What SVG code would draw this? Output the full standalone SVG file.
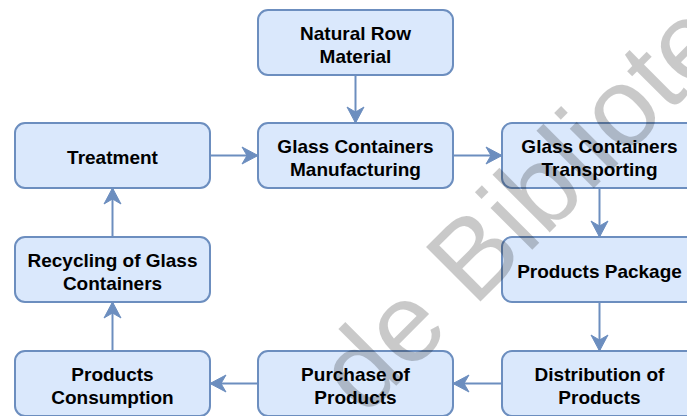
<svg xmlns="http://www.w3.org/2000/svg" width="687" height="416" viewBox="0 0 687 416">
  <style>
    .box { fill: #dae8fc; stroke: #6c8ebf; stroke-width: 2; }
    .lbl { font-family: "Liberation Sans", Arial, sans-serif; font-weight: bold; font-size: 19px; fill: #000; text-anchor: middle; }
    .edge { stroke: #6c8ebf; stroke-width: 2; fill: none; marker-end: url(#arr); }
    .wm { font-family: "Liberation Sans", Arial, sans-serif; font-size: 112px; fill: #000; fill-opacity: 0.21; }
  </style>
  <defs>
    <marker id="arr" markerUnits="userSpaceOnUse" markerWidth="20" markerHeight="20" viewBox="-17 -10 18 20" refX="0" refY="0" orient="auto">
      <path d="M0,0 L-16,-8.5 L-11,0 L-16,8.5 Z" fill="#6c8ebf" stroke="#6c8ebf" stroke-width="1"/>
    </marker>
  </defs>
  <rect width="687" height="416" fill="#ffffff"/>

  <g id="natural-row-material">
    <rect class="box" x="258" y="10" width="195" height="65" rx="10"/>
    <text class="lbl" x="355.5" y="40">Natural Row</text>
    <text class="lbl" x="355.5" y="63">Material</text>
  </g>
  <g id="treatment">
    <rect class="box" x="15" y="123" width="195" height="65" rx="10"/>
    <text class="lbl" x="112.5" y="164">Treatment</text>
  </g>
  <g id="glass-containers-manufacturing">
    <rect class="box" x="258" y="123" width="195" height="65" rx="10"/>
    <text class="lbl" x="355.5" y="153">Glass Containers</text>
    <text class="lbl" x="355.5" y="176">Manufacturing</text>
  </g>
  <g id="glass-containers-transporting">
    <rect class="box" x="502" y="123" width="195" height="65" rx="10"/>
    <text class="lbl" x="599.5" y="153">Glass Containers</text>
    <text class="lbl" x="599.5" y="176">Transporting</text>
  </g>
  <g id="recycling">
    <rect class="box" x="15" y="237" width="195" height="65" rx="10"/>
    <text class="lbl" x="112.5" y="267">Recycling of Glass</text>
    <text class="lbl" x="112.5" y="290">Containers</text>
  </g>
  <g id="products-package">
    <rect class="box" x="502" y="237" width="195" height="65" rx="10"/>
    <text class="lbl" x="599.5" y="278">Products Package</text>
  </g>
  <g id="products-consumption">
    <rect class="box" x="15" y="351" width="195" height="65" rx="10"/>
    <text class="lbl" x="112.5" y="381">Products</text>
    <text class="lbl" x="112.5" y="404">Consumption</text>
  </g>
  <g id="purchase-of-products">
    <rect class="box" x="258" y="351" width="195" height="65" rx="10"/>
    <text class="lbl" x="355.5" y="381">Purchase of</text>
    <text class="lbl" x="355.5" y="404">Products</text>
  </g>
  <g id="distribution-of-products">
    <rect class="box" x="502" y="351" width="195" height="65" rx="10"/>
    <text class="lbl" x="599.5" y="381">Distribution of</text>
    <text class="lbl" x="599.5" y="404">Products</text>
  </g>

  <g id="connectors">
    <line class="edge" x1="355.5" y1="75" x2="355.5" y2="123"/>
    <line class="edge" x1="210" y1="155.5" x2="258" y2="155.5"/>
    <line class="edge" x1="453" y1="155.5" x2="502" y2="155.5"/>
    <line class="edge" x1="599.5" y1="188" x2="599.5" y2="237"/>
    <line class="edge" x1="599.5" y1="302" x2="599.5" y2="351"/>
    <line class="edge" x1="502" y1="383.5" x2="453" y2="383.5"/>
    <line class="edge" x1="258" y1="383.5" x2="210" y2="383.5"/>
    <line class="edge" x1="112.5" y1="351" x2="112.5" y2="302"/>
    <line class="edge" x1="112.5" y1="237" x2="112.5" y2="188"/>
  </g>

  <text class="wm" x="364" y="418" transform="rotate(-45 364 418)">de Bibliote</text>
</svg>
